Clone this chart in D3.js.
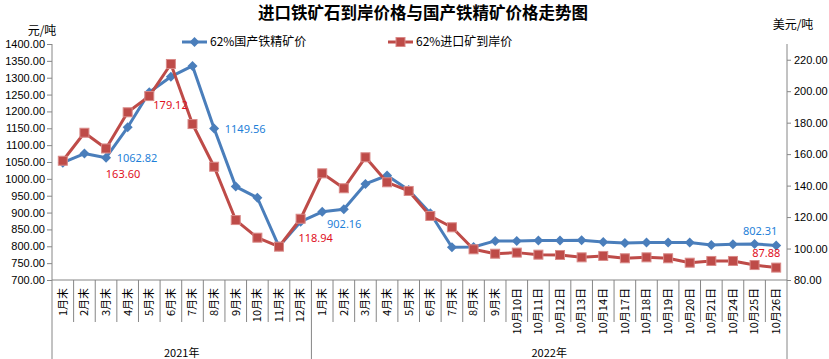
<!DOCTYPE html>
<html><head><meta charset="utf-8">
<script src="https://cdn.jsdelivr.net/npm/d3@7"></script>
<style>
body{margin:0;background:#fff;}
svg{display:block;font-family:"Noto Sans","Noto Sans CJK SC",sans-serif;}
</style></head>
<body><svg id="c" width="829" height="359"></svg>
<script>
const monthLabels2021 = ["1月末","2月末","3月末","4月末","5月末","6月末","7月末","8月末","9月末","10月末","11月末","12月末"];
const labels2022 = ["1月末","2月末","3月末","4月末","5月末","6月末","7月末","8月末","9月末",
  "10月10日","10月11日","10月12日","10月13日","10月14日","10月17日","10月18日","10月19日","10月20日","10月21日","10月24日","10月25日","10月26日"];
const groups = ["2021年","2022年"];
const categories = monthLabels2021.concat(labels2022);
const domesticPrice = [1048,1075,1062.82,1153,1257,1303,1335,1149.56,977,944,799,873,
  902.16,910,985,1010,967,898,797,798,816,816,817,817,818,813,810,811,811,811,804,806,807,802.31];
const importPrice = [155.8,173.6,163.60,186.6,196.9,217.3,179.12,152,118.1,106.9,101.2,118.94,
  147.8,138.3,158,142.1,136.6,120.7,113.5,99.5,96.7,97.4,96.1,95.9,94.4,95.3,93.8,94.4,93.8,91,92.1,92.1,89.5,87.88];
const leftTicks = d3.range(700,1401,50);
const rightTicks = d3.range(80,221,20);
const seriesNames = ["62%国产铁精矿价","62%进口矿到岸价"];
const domesticLabelIdx = [2,7,12,33];
const importLabelIdx = [2,6,11,33];

const svg = d3.select("#c");
const L = 52, R = 787, T = 44, B = 280;
const axisColor = "#868686";
const blue = "#4A7EBB", red = "#BE4B48";
const x = d3.scaleBand().domain(d3.range(categories.length)).range([L,R]).paddingInner(0).paddingOuter(0);
const yL = d3.scaleLinear().domain([700,1400]).range([B,T]);
const yR = d3.scaleLinear().domain([80,230]).range([B,T]);
const cx = i => x(i) + x.bandwidth()/2;

// title
svg.append("text").attr("x",423).attr("y",19).attr("text-anchor","middle")
  .style("font-family","'Noto Sans CJK SC',sans-serif").style("font-weight","bold").style("font-size","16.5px").text("进口铁矿石到岸价格与国产铁精矿价格走势图");
svg.append("text").attr("x",42).attr("y",35).attr("text-anchor","middle").style("font-size","12px").style("font-family","'Noto Sans CJK SC',sans-serif").text("元/吨");
svg.append("text").attr("x",793).attr("y",29).attr("text-anchor","middle").style("font-size","12px").style("font-family","'Noto Sans CJK SC',sans-serif").text("美元/吨");

// left axis
const gL = svg.append("g").attr("transform",`translate(${L},0)`)
  .call(d3.axisLeft(yL).tickValues(leftTicks).tickFormat(d3.format(".2f")).tickSize(5).tickSizeOuter(0));
gL.select(".domain").remove();
gL.selectAll("line").attr("stroke",axisColor);
gL.selectAll("text").style("font-size","11px").attr("fill","#000").attr("x",-7);
svg.append("line").attr("x1",L).attr("x2",L).attr("y1",T).attr("y2",359).attr("stroke",axisColor);

// right axis
const gR = svg.append("g").attr("transform",`translate(${R},0)`)
  .call(d3.axisRight(yR).tickValues(rightTicks).tickFormat(d3.format(".2f")).tickSize(4).tickSizeOuter(0));
gR.select(".domain").remove();
gR.selectAll("line").attr("stroke",axisColor);
gR.selectAll("text").style("font-size","11px").attr("fill","#000").attr("x",7);
svg.append("line").attr("x1",R).attr("x2",R).attr("y1",T).attr("y2",359).attr("stroke",axisColor);

// x axis
svg.append("line").attr("x1",L).attr("x2",R).attr("y1",B).attr("y2",B).attr("stroke",axisColor);
const bounds = d3.range(1,categories.length);
svg.selectAll("line.xt").data(bounds).join("line").attr("class","xt")
  .attr("x1",i=>x(i)).attr("x2",i=>x(i)).attr("y1",B)
  .attr("y2",i=> i===monthLabels2021.length ? 359 : 322).attr("stroke",axisColor);
svg.selectAll("text.xl").data(categories).join("text").attr("class","xl")
  .attr("transform",(d,i)=>`translate(${cx(i)},${B+8}) rotate(-90)`)
  .attr("text-anchor","end").attr("dy","0.35em")
  .style("font-size","11px").style("font-family","'Noto Sans CJK SC',sans-serif").text(d=>d);
const groupCenters = [(L + x(monthLabels2021.length))/2, (x(monthLabels2021.length)+R)/2];
svg.selectAll("text.gl").data(groups).join("text").attr("class","gl")
  .attr("x",(d,i)=>groupCenters[i]).attr("y",357).attr("text-anchor","middle")
  .style("font-size","11px").style("font-family","'Noto Sans CJK SC',sans-serif").text(d=>d);

// lines
const lineL = d3.line().x((d,i)=>cx(i)).y(d=>yL(d));
const lineR = d3.line().x((d,i)=>cx(i)).y(d=>yR(d));
const diamond = h => `M0,${-h}L${h},0L0,${h}L${-h},0Z`;
svg.append("path").attr("d",lineL(domesticPrice)).attr("fill","none").attr("stroke",blue).attr("stroke-width",3).attr("stroke-linejoin","round");
svg.selectAll("path.dm").data(domesticPrice).join("path").attr("class","dm")
  .attr("transform",(d,i)=>`translate(${cx(i)},${yL(d)})`).attr("d",diamond(5)).attr("fill",blue);
svg.append("path").attr("d",lineR(importPrice)).attr("fill","none").attr("stroke",red).attr("stroke-width",3).attr("stroke-linejoin","round");
svg.selectAll("rect.im").data(importPrice).join("rect").attr("class","im")
  .attr("x",(d,i)=>cx(i)-4.5).attr("y",d=>yR(d)-4.5).attr("width",9).attr("height",9)
  .attr("fill",red).attr("stroke","#d98a88").attr("stroke-width",1);

// data labels
const fmt = d3.format(".2f");
const blueOff = {2:[31,0],7:[31,0.5],12:[22,12.6],33:[-16,-14]};
const redOff = {2:[17,26],6:[-22,-18.6],11:[15,19],33:[-10,-14]};
svg.selectAll("text.bl").data(domesticLabelIdx).join("text").attr("class","bl")
  .attr("x",i=>cx(i)+blueOff[i][0]).attr("y",i=>yL(domesticPrice[i])+blueOff[i][1]).attr("dy","0.35em")
  .attr("text-anchor","middle").style("font-size","11px").attr("fill","#1F7FD8").text(i=>fmt(domesticPrice[i]));
svg.selectAll("text.rl").data(importLabelIdx).join("text").attr("class","rl")
  .attr("x",i=>cx(i)+redOff[i][0]).attr("y",i=>yR(importPrice[i])+redOff[i][1]).attr("dy","0.35em")
  .attr("text-anchor","middle").style("font-size","11px").attr("fill","#E0101E").text(i=>fmt(importPrice[i]));

// legend
const lg = svg.append("g");
lg.append("line").attr("x1",182).attr("x2",207).attr("y1",42).attr("y2",42).attr("stroke",blue).attr("stroke-width",3);
lg.append("path").attr("transform","translate(194.5,42)").attr("d",diamond(5)).attr("fill",blue);
lg.append("text").attr("x",210).attr("y",42).attr("dy","0.35em").style("font-size","12px").style("font-family","'Noto Sans CJK SC',sans-serif").text(seriesNames[0]);
lg.append("line").attr("x1",388).attr("x2",413).attr("y1",42).attr("y2",42).attr("stroke",red).attr("stroke-width",3);
lg.append("rect").attr("x",396).attr("y",37.5).attr("width",9).attr("height",9).attr("fill",red).attr("stroke","#d98a88");
lg.append("text").attr("x",416).attr("y",42).attr("dy","0.35em").style("font-size","12px").style("font-family","'Noto Sans CJK SC',sans-serif").text(seriesNames[1]);
</script></body></html>
